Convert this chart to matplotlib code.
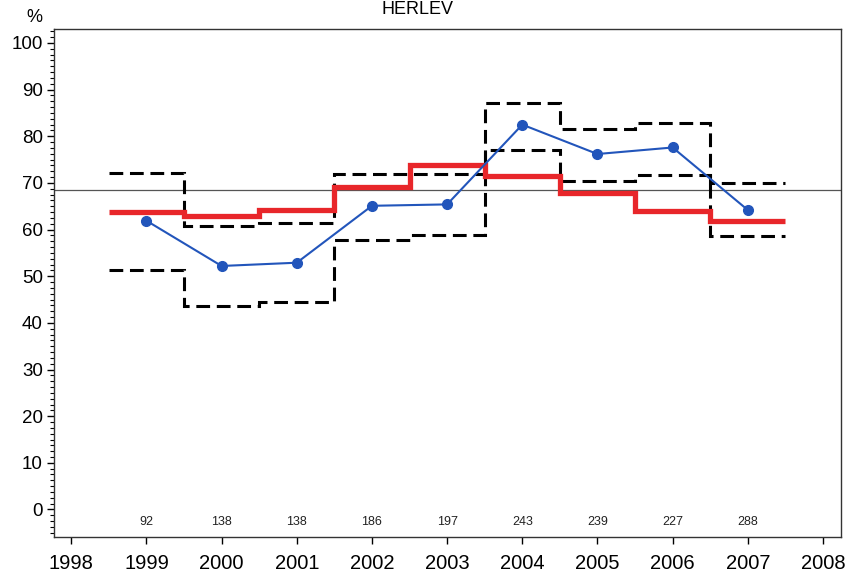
import numpy as np
import matplotlib
matplotlib.use("Agg")
import matplotlib.pyplot as plt
from matplotlib.ticker import MultipleLocator

# data
years = [1999, 2000, 2001, 2002, 2003, 2004, 2005, 2006, 2007]
observed = [61.9, 52.2, 52.9, 65.1, 65.4, 82.5, 76.2, 77.6, 64.2]
expected = [63.8, 63.0, 64.2, 69.1, 73.9, 71.4, 67.8, 64.0, 61.8]
upper = [72.1, 60.8, 61.5, 72.0, 72.0, 87.2, 81.5, 82.8, 69.9]
lower = [51.3, 43.6, 44.4, 57.8, 58.8, 77.0, 70.4, 71.6, 58.6]
counts = [92, 138, 138, 186, 197, 243, 239, 227, 288]
reference = 68.4
title = "HERLEV"

plt.rcParams['font.family'] = ['Liberation Sans', 'DejaVu Sans']

fig = plt.figure(figsize=(8.46, 5.76), dpi=100)
ax = fig.add_axes([54 / 846, 1 - 537 / 576, 787 / 846, 508 / 576])

edges = np.append(np.array(years) - 0.5, years[-1] + 0.5)

ax.axhline(reference, color='#555555', lw=0.9, zorder=1)

dash = (0, (4.5, 2.2))
ax.stairs(upper, edges, baseline=None, color='black', lw=2.2, linestyle=dash, zorder=2)
ax.stairs(lower, edges, baseline=None, color='black', lw=2.2, linestyle=dash, zorder=2)
ax.stairs(expected, edges, baseline=None, color='#e8262a', lw=3.8, zorder=3)

ax.plot(years, observed, color='#2255bb', lw=1.5, marker='o', ms=7, zorder=4)

for yr, n in zip(years, counts):
    ax.text(yr, -2.7, str(n), ha='center', va='center', fontsize=9, color='#222222')

ax.set_xlim(1997.77, 2008.24)
ax.set_ylim(-5.9, 103.0)
ax.set_xticks(range(1998, 2009))
ax.set_yticks(range(0, 101, 10))
ax.yaxis.set_minor_locator(MultipleLocator(1.25))

ax.tick_params(axis='x', direction='out', length=5, width=1, labelsize=14.5, pad=7)
ax.tick_params(axis='y', which='major', direction='out', length=5, width=1, labelsize=13.5, pad=3)
ax.tick_params(axis='y', which='minor', direction='out', length=3, width=0.8)

for s in ax.spines.values():
    s.set_linewidth(1.0)
    s.set_color('#333333')

fig.text(34 / 846, 1 - 18 / 576, '%', ha='center', va='center', fontsize=13)
fig.text(417 / 846, 1 - 14 / 576, title, ha='center', va='baseline', fontsize=13)

fig.savefig('out.png', dpi=100)
